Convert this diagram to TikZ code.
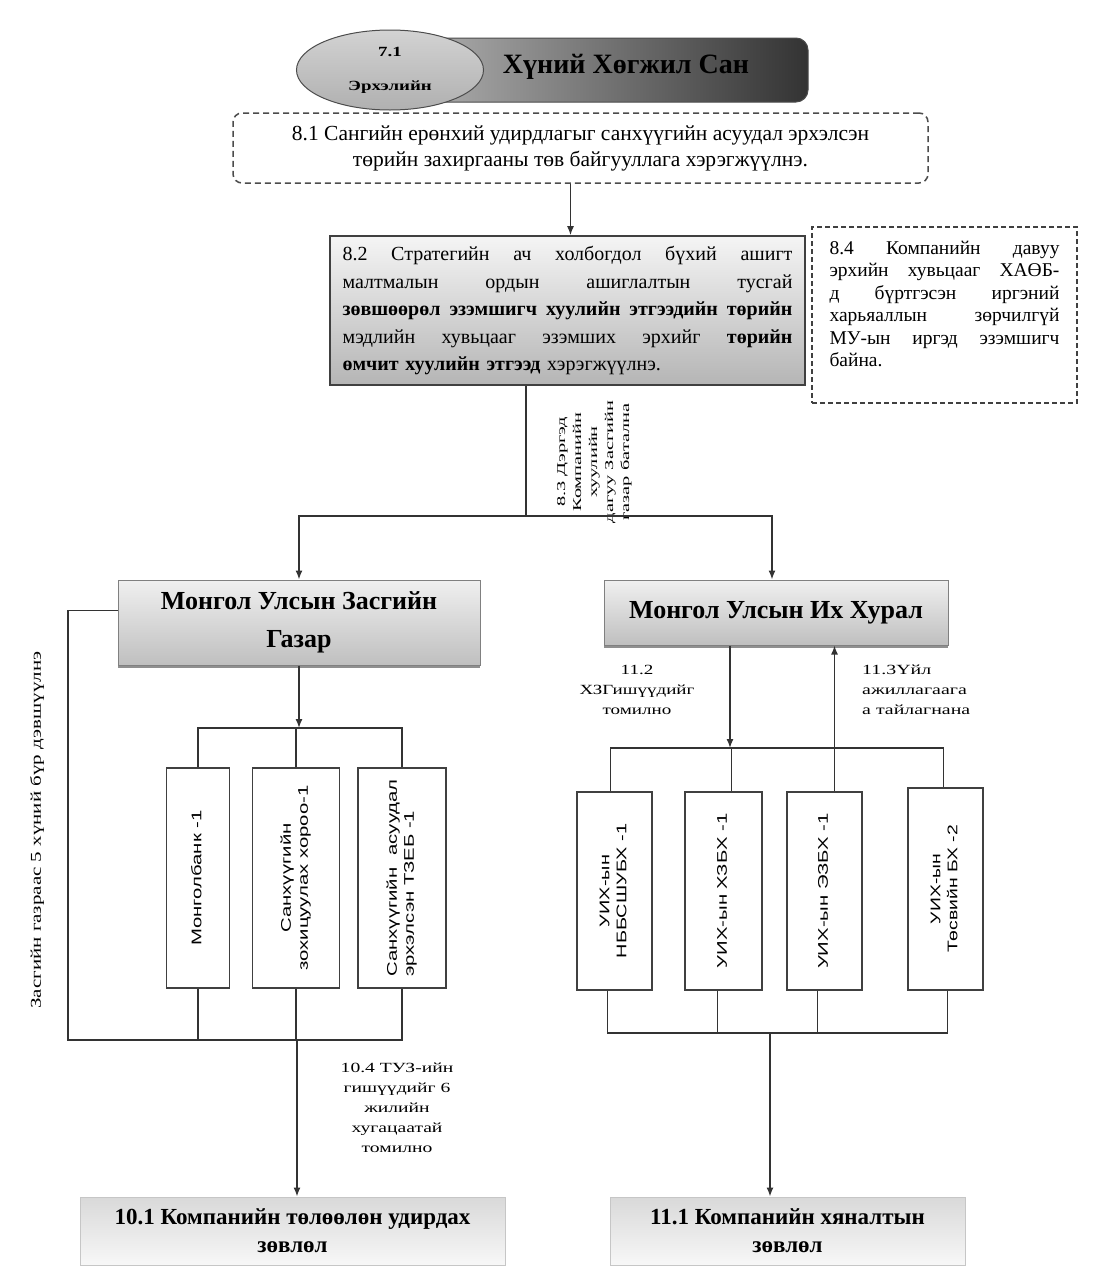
\documentclass[tikz,border=0pt]{standalone}
\usepackage{fontspec}
\usepackage{graphicx}
\setmainfont{Liberation Serif}
\newfontfamily\sansf{Liberation Sans}
\usetikzlibrary{arrows.meta,shapes.geometric,shadows}
\newcommand\jline[2]{\makebox[#1][s]{\spaceskip=0.3em plus 1fil\relax #2}}
\newcommand\wide[2]{\scalebox{#1}[1]{#2}}
\begin{document}
\begin{tikzpicture}[x=1pt,y=-1pt,
  conn/.style={draw=black!80,line width=1.4pt},
  arr/.style={conn,-{Latex[length=9pt,width=7pt]}},
  vbox/.style={draw=black!75,line width=1.6pt,fill=white,inner sep=0pt,font=\sansf\fontsize{14}{17}\selectfont},
  lab/.style={font=\fontsize{14}{20}\selectfont,align=center,inner sep=0pt},
  dbox/.style={draw=black!70,line width=1.5pt,dash pattern=on 6pt off 4pt,fill=white},
  gbox/.style={draw=black!50,line width=1pt,top color=gray!12,bottom color=gray!50,
     drop shadow={shadow xshift=0pt,shadow yshift=-3pt,fill=black!55,opacity=0.8},inner sep=0pt,align=center},
  lbox/.style={draw=gray!45,line width=1pt,top color=gray!30,bottom color=gray!6,inner sep=0pt,align=center}
]
\useasboundingbox (0,0) rectangle (1099,1275);
\fill[white] (0,0) rectangle (1099,1275);

% top banner
\node[draw=black!70,line width=1pt,rounded corners=12pt,left color=gray!45,right color=black!80,
  minimum width=463pt,minimum height=64pt,inner sep=0pt] (ban) at (576.5,70) {};
\node[ellipse,draw=black!70,line width=1pt,top color=gray!35,bottom color=gray!62,
  minimum width=187pt,minimum height=80pt,align=center,inner sep=0pt,
  font=\bfseries\fontsize{14}{16}\selectfont] (ell) at (390,70)
  {\wide{1.35}{7.1}\\[18pt]\wide{1.35}{Эрхэлийн}};
\node[font=\bfseries\fontsize{28}{32}\selectfont] (title) at (626,67) {Хүний Хөгжил Сан};

% 8.1
\node[dbox,rounded corners=9pt,minimum width=695pt,minimum height=70pt,align=center,
  font=\fontsize{21.5}{26}\selectfont] (b81) at (580.5,148)
  {8.1 Сангийн ерөнхий удирдлагыг санхүүгийн асуудал эрхэлсэн\\төрийн захиргааны төв байгууллага хэрэгжүүлнэ.};

% 8.2
\node[draw=black!75,line width=1.6pt,top color=gray!8,bottom color=gray!58,
  minimum width=475pt,minimum height=149pt,text width=450pt,align=left,inner sep=0pt,
  font=\fontsize{20}{27.5}\selectfont] (b82) at (567.5,310.5)
  {\jline{450pt}{8.2 Стратегийн ач холбогдол бүхий ашигт}\\
   \jline{450pt}{малтмалын ордын ашиглалтын тусгай}\\
   \jline{450pt}{\textbf{зөвшөөрөл эзэмшигч хуулийн этгээдийн төрийн}}\\
   \jline{450pt}{мэдлийн хувьцааг эзэмших эрхийг \textbf{төрийн}}\\
   \textbf{өмчит хуулийн этгээд} хэрэгжүүлнэ.};

% 8.4
\node[draw=black!75,line width=2pt,dash pattern=on 5pt off 3pt,fill=white,
  minimum width=265pt,minimum height=176pt,text width=230pt,align=left,inner sep=0pt,
  font=\fontsize{19.5}{22.5}\selectfont] (b84) at (944.5,315)
  {\jline{230pt}{8.4 Компанийн давуу}\\
   \jline{230pt}{эрхийн хувьцааг ХАӨБ-}\\
   \jline{230pt}{д бүртгэсэн иргэний}\\
   \jline{230pt}{харьяаллын зөрчилгүй}\\
   \jline{230pt}{МУ-ын иргэд эзэмшигч}\\
   байна.\\\mbox{}};

\draw[arr] ([xshift=-10pt]b81.south) -- ([xshift=-10pt]b81.south |- b82.north);

% 8.3 label
\node[lab,rotate=90,font=\fontsize{12}{16}\selectfont] (l83) at (594,462)
  {\wide{1.7}{\begin{tabular}{@{}c@{}}8.3 Дэргэд\\Компанийн\\хуулийн\\дагуу Засгийн\\газар батална\end{tabular}}};

% government / parliament
\node[gbox,minimum width=362pt,minimum height=85pt,font=\bfseries\fontsize{26}{38}\selectfont]
  (gov) at (299,622.5) {Монгол Улсын Засгийн\\Газар};
\node[gbox,minimum width=344pt,minimum height=65pt,font=\bfseries\fontsize{26}{30}\selectfont]
  (uih) at (776,612.5) {Монгол Улсын Их Хурал};

\coordinate (split) at (526,516);
\draw[conn] ([xshift=-41.5pt]b82.south) -- (split);
\draw[arr] (split) -| (gov.north);
\draw[arr] (split) -| ([xshift=-4pt]uih.north);

% left vertical text
\node[rotate=90,font=\fontsize{15}{18}\selectfont,inner sep=0pt] (lvt) at (37,830)
  {\wide{1.4}{Засгийн газраас 5 хүний бүр дэвшүүлнэ}};

% left boxes
\node[vbox,minimum width=63pt,minimum height=220pt] (lb1) at (198,878)
  {\rotatebox{90}{\wide{1.45}{\begin{tabular}{@{}c@{}}Монголбанк -1\end{tabular}}}};
\node[vbox,minimum width=87pt,minimum height=220pt] (lb2) at (296,878)
  {\rotatebox{90}{\wide{1.45}{\begin{tabular}{@{}c@{}}Санхүүгийн\\зохицуулах хороо-1\end{tabular}}}};
\node[vbox,minimum width=88pt,minimum height=220pt] (lb3) at (402,878)
  {\rotatebox{90}{\wide{1.45}{\begin{tabular}{@{}l@{}}\jline{136pt}{Санхүүгийн асуудал}\\эрхэлсэн ТЗЕБ -1\end{tabular}}}};

\coordinate (gbus) at (299,728);
\draw[arr] (gov.south) -- (gbus);
\draw[conn] (lb1.north) |- (gbus) -| (lb3.north);
\draw[conn] (lb2.north) -- (lb2.north |- gbus);

\coordinate (lcorner) at (68,1040);
\coordinate (lbb) at (297,1040);
\draw[conn] ([yshift=12pt]gov.west) -| (lcorner) -- (lb3.south |- lcorner) -- (lb3.south);
\draw[conn] (lb1.south) -- (lb1.south |- lcorner);
\draw[conn] (lb2.south) -- (lb2.south |- lcorner);

% 10.4 label
\node[lab] (l104) at (397,1108)
  {\wide{1.4}{\begin{tabular}{@{}c@{}}10.4 ТУЗ-ийн\\гишүүдийг 6\\жилийн\\хугацаатай\\томилно\end{tabular}}};

% right boxes
\node[vbox,minimum width=75pt,minimum height=198pt] (rb1) at (614.5,891)
  {\rotatebox{90}{\wide{1.42}{\begin{tabular}{@{}c@{}}УИХ-ын\\НББСШУБХ -1\end{tabular}}}};
\node[vbox,minimum width=77pt,minimum height=198pt] (rb2) at (723.5,891)
  {\rotatebox{90}{\wide{1.45}{\begin{tabular}{@{}c@{}}УИХ-ын ХЗБХ -1\end{tabular}}}};
\node[vbox,minimum width=75pt,minimum height=198pt] (rb3) at (824.5,891)
  {\rotatebox{90}{\wide{1.45}{\begin{tabular}{@{}c@{}}УИХ-ын ЭЗБХ -1\end{tabular}}}};
\node[vbox,minimum width=75pt,minimum height=202pt] (rb4) at (945.5,889)
  {\rotatebox{90}{\wide{1.38}{\begin{tabular}{@{}c@{}}УИХ-ын\\Төсвийн БХ -2\end{tabular}}}};

\coordinate (rbus) at (730,748);
\draw[arr] ([xshift=-46pt]uih.south) -- (rbus);
\draw[conn] ([xshift=-4pt]rb1.north) |- (rbus) -| ([xshift=-2pt]rb4.north);
\draw[conn] ([xshift=8pt]rb2.north) -- ([xshift=8pt]rb2.north |- rbus);
\draw[arr] ([xshift=10pt]rb3.north) -- ([xshift=10pt]rb3.north |- uih.south);

\node[lab] (l112) at (637,690)
  {\wide{1.36}{\begin{tabular}{@{}c@{}}11.2\\ХЗГишүүдийг\\томилно\end{tabular}}};
\node[lab,anchor=west] (l113) at (862,690)
  {\wide{1.42}{\begin{tabular}{@{}l@{}}11.3Үйл\\ажиллагаага\\а тайлагнана\end{tabular}}};

\coordinate (rbb) at (770,1033);
\draw[conn] ([xshift=-7pt]rb1.south) |- (rbb) -| ([xshift=2pt]rb4.south);
\draw[conn] ([xshift=-6pt]rb2.south) -- ([xshift=-6pt]rb2.south |- rbb);
\draw[conn] ([xshift=-7pt]rb3.south) -- ([xshift=-7pt]rb3.south |- rbb);

% bottom boxes
\node[lbox,minimum width=425pt,minimum height=68pt,font=\bfseries\fontsize{23}{28}\selectfont]
  (b101) at (292.5,1231) {10.1 Компанийн төлөөлөн удирдах\\зөвлөл};
\node[lbox,minimum width=355pt,minimum height=68pt,font=\bfseries\fontsize{23}{28}\selectfont]
  (b111) at (787.5,1231) {11.1 Компанийн хяналтын\\зөвлөл};

\draw[arr] (lbb) -- (lbb |- b101.north);
\draw[arr] (rbb) -- (rbb |- b111.north);
\end{tikzpicture}
\end{document}
